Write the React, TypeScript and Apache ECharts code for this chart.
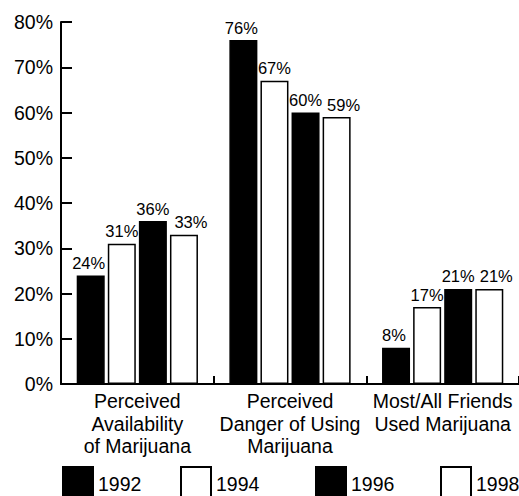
import React, { useEffect, useRef } from "react";
import * as echarts from "echarts";

const categories = [
  "Perceived\nAvailability\nof Marijuana",
  "Perceived\nDanger of Using\nMarijuana",
  "Most/All Friends\nUsed Marijuana",
];
const years = ["1992", "1994", "1996", "1998"];
const v1992 = [24, 76, 8];
const v1994 = [31, 67, 17];
const v1996 = [36, 60, 21];
const v1998 = [33, 59, 21];
const seriesValues = [v1992, v1994, v1996, v1998];
const fills = ["#000000", "#ffffff", "#000000", "#ffffff"];
const labelShift = [-2, 0, 0, 7];
const legendLefts = [62, 180, 315, 440];

const FONT = "'Liberation Sans', Arial, Helvetica, sans-serif";

export default function App() {
  const ref = useRef<HTMLDivElement>(null);
  useEffect(() => {
    if (!ref.current) return;
    const chart = echarts.init(ref.current, null, { renderer: "svg" });
    chart.setOption({
      animation: false,
      backgroundColor: "#ffffff",
      textStyle: { fontFamily: FONT, color: "#000" },
      grid: { left: 61, right: 0, top: 22, bottom: 112, containLabel: false },
      legend: years.map((y, i) => ({
        data: [y],
        left: legendLefts[i],
        top: 466,
        padding: 0,
        itemWidth: 30,
        itemHeight: 34,
        icon: "rect",
        textStyle: { fontSize: 19.5, fontFamily: FONT, color: "#000" },
        selectedMode: false,
      })),
      xAxis: {
        type: "category",
        data: categories,
        axisLine: { show: true, lineStyle: { color: "#000", width: 2 } },
        axisTick: {
          show: true,
          inside: true,
          length: 8,
          alignWithLabel: false,
          lineStyle: { color: "#000", width: 2 },
        },
        axisLabel: {
          fontSize: 19.5,
          lineHeight: 22.5,
          color: "#000",
          fontFamily: FONT,
          margin: 6,
          interval: 0,
          verticalAlign: "top",
        },
      },
      yAxis: {
        type: "value",
        min: 0,
        max: 80,
        interval: 10,
        splitLine: { show: false },
        axisLine: { show: true, lineStyle: { color: "#000", width: 2 } },
        axisTick: {
          show: true,
          inside: true,
          length: 11,
          lineStyle: { color: "#000", width: 2 },
        },
        axisLabel: {
          formatter: "{value}%",
          fontSize: 19.5,
          color: "#000",
          fontFamily: FONT,
          margin: 8,
        },
      },
      series: years.map((y, i) => ({
        name: y,
        type: "bar",
        data: seriesValues[i],
        barWidth: 28,
        barGap: "11%",
        itemStyle: {
          color: fills[i],
          borderColor: "#000",
          borderWidth: 1.5,
        },
        label: {
          show: true,
          position: "top",
          distance: 4,
          offset: [labelShift[i], 0],
          formatter: "{c}%",
          fontSize: 16.5,
          color: "#000",
          fontFamily: FONT,
        },
      })),
    });
    return () => chart.dispose();
  }, []);
  return (
    <div
      ref={ref}
      style={{ position: "absolute", left: 0, top: 0, width: 519, height: 496 }}
    />
  );
}
